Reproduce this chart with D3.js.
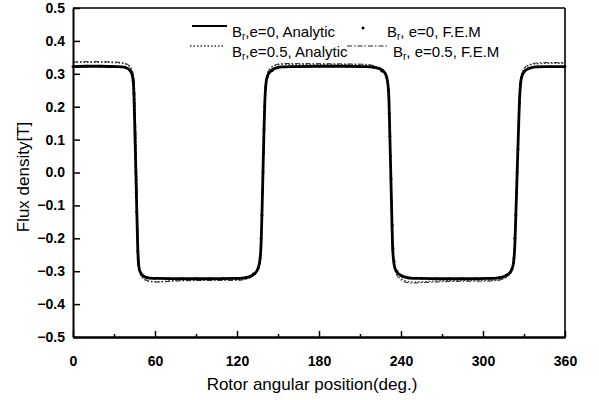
<!DOCTYPE html>
<html>
<head>
<meta charset="utf-8">
<script src="https://cdn.jsdelivr.net/npm/d3@7"></script>
<style>
  body { margin: 0; background: #fff; }
  text { font-family: Arial, "Liberation Sans", sans-serif; fill: #000; }
</style>
</head>
<body>
<script>
// tick values
const xTicks = [0, 60, 120, 180, 240, 300, 360]
const xMinor = [30, 90, 150, 210, 270, 330]
const yTicks = [-0.5, -0.4, -0.3, -0.2, -0.1, 0.0, 0.1, 0.2, 0.3, 0.4, 0.5]

// series, [angle (deg), Br (T)]
const analytic0 = [
  [0,0.322],[10,0.323],[20,0.323],[30,0.322],[36,0.321],[39,0.318],[41,0.313],[42.5,0.305],[43.5,0.293],[44.2,0.27],[44.7,0.22],[45.3,0.12],[46,0],[46.7,-0.12],[47.3,-0.22],[47.8,-0.27],[48.5,-0.293],[49.5,-0.305],[51,-0.313],[53,-0.318],[56,-0.321],[62,-0.322],[80,-0.323],[100,-0.323],[118,-0.322],
  [124,-0.321],[128,-0.318],[131,-0.313],[133.5,-0.305],[135.5,-0.29],[136.8,-0.265],[137.6,-0.22],[138.3,-0.12],[139,0],[139.7,0.12],[140.4,0.22],[141.2,0.27],[142.3,0.293],[144,0.305],[146,0.313],[149,0.318],[153,0.321],[160,0.322],[180,0.323],[200,0.323],[212,0.322],
  [218,0.321],[222,0.318],[225.5,0.313],[227.8,0.305],[229.5,0.29],[230.5,0.265],[231.2,0.22],[231.8,0.12],[232.5,0],[233.2,-0.12],[233.8,-0.22],[234.5,-0.265],[235.5,-0.29],[237.5,-0.305],[240,-0.313],[243,-0.318],[247,-0.321],[254,-0.322],[270,-0.323],[290,-0.323],[304,-0.322],
  [310,-0.321],[314,-0.318],[317,-0.313],[319.5,-0.305],[321.5,-0.29],[322.6,-0.265],[323.3,-0.22],[324.1,-0.12],[325,0],[325.9,0.12],[326.7,0.22],[327.5,0.27],[328.5,0.293],[330,0.305],[332,0.313],[335,0.318],[339,0.321],[346,0.322],[360,0.322]
]

const analytic05 = [
  [0,0.334],[10,0.335],[20,0.335],[30,0.334],[36,0.332],[39.5,0.328],[41.5,0.322],[43,0.312],[44,0.298],[44.8,0.27],[45.4,0.2],[46,0.1],[46.5,0],[47.1,-0.12],[47.7,-0.22],[48.3,-0.28],[49.2,-0.305],[50.5,-0.318],[52.5,-0.326],[56,-0.331],[62,-0.332],[75,-0.328],[95,-0.326],[118,-0.326],
  [124,-0.324],[128,-0.321],[131,-0.316],[133.5,-0.308],[135.5,-0.293],[136.8,-0.268],[137.6,-0.22],[138.3,-0.12],[139,0],[139.7,0.12],[140.4,0.22],[141.3,0.28],[142.5,0.305],[144.5,0.317],[147,0.324],[151,0.328],[158,0.329],[180,0.328],[200,0.328],[212,0.327],
  [218,0.325],[222,0.322],[225,0.317],[227.5,0.308],[229.4,0.293],[230.5,0.268],[231.3,0.22],[231.9,0.12],[232.6,0],[233.3,-0.12],[234,-0.22],[234.8,-0.275],[236,-0.3],[238,-0.315],[240.5,-0.324],[244,-0.33],[249,-0.333],[256,-0.332],[270,-0.329],[290,-0.328],[304,-0.328],
  [310,-0.327],[314,-0.324],[317,-0.319],[319.5,-0.31],[321.5,-0.295],[322.6,-0.27],[323.3,-0.22],[324.1,-0.12],[325,0],[325.9,0.12],[326.7,0.22],[327.6,0.28],[328.7,0.305],[330.5,0.318],[333,0.325],[336.5,0.329],[342,0.331],[350,0.332],[360,0.332]
]

const fem0 = [
  [0,0.322],[10,0.323],[20,0.323],[30,0.322],[38,0.32],[42,0.31],[44,0.28],[44.6,0.24],[45,0.18],[45.4,0.12],[45.7,0.06],[46,0],[46.3,-0.06],[46.6,-0.12],[47,-0.18],[47.4,-0.24],[48,-0.28],[50,-0.31],[54,-0.32],[60,-0.322],[70,-0.323],[80,-0.323],[90,-0.323],[100,-0.323],[110,-0.322],[120,-0.322],
  [127,-0.319],[132,-0.308],[135.6,-0.29],[137,-0.26],[137.6,-0.2],[138.2,-0.13],[138.7,-0.06],[139,0],[139.4,0.06],[139.8,0.13],[140.3,0.2],[140.9,0.26],[142.3,0.29],[146,0.31],[150,0.32],[160,0.322],[170,0.323],[180,0.323],[190,0.323],[200,0.323],[210,0.322],
  [220,0.319],[226,0.308],[229.5,0.29],[230.8,0.25],[231.4,0.18],[231.9,0.11],[232.3,0.05],[232.7,-0.02],[233.1,-0.09],[233.6,-0.16],[234.2,-0.23],[235,-0.27],[237,-0.3],[241,-0.315],[246,-0.321],[255,-0.322],[265,-0.323],[275,-0.323],[285,-0.323],[295,-0.323],[305,-0.322],
  [312,-0.32],[317,-0.313],[321,-0.295],[322.6,-0.26],[323.3,-0.2],[324,-0.13],[324.6,-0.06],[325,0],[325.6,0.07],[326.2,0.14],[326.8,0.21],[327.5,0.27],[329,0.3],[333,0.315],[340,0.321],[350,0.322],[360,0.322]
]

const fem05 = [
  [0,0.336],[15,0.337],[30,0.336],[37,0.333],[40.5,0.327],[42.8,0.315],[44.2,0.295],[45,0.26],[45.6,0.18],[46.2,0.06],[46.8,-0.06],[47.4,-0.18],[48.1,-0.26],[49.2,-0.3],[51,-0.318],[54,-0.328],[60,-0.333],[75,-0.33],[100,-0.328],[120,-0.328],
  [127,-0.324],[131.5,-0.315],[134.8,-0.298],[136.6,-0.27],[137.6,-0.2],[138.4,-0.09],[139.2,0.03],[140,0.15],[140.8,0.25],[142,0.295],[144,0.315],[147.5,0.326],[153,0.331],[165,0.331],[200,0.33],[213,0.329],
  [219,0.326],[223.5,0.318],[227,0.305],[229.5,0.285],[230.9,0.24],[231.7,0.15],[232.4,0.03],[233.1,-0.09],[233.8,-0.2],[234.7,-0.27],[236.2,-0.305],[238.5,-0.322],[242,-0.332],[248,-0.336],[258,-0.334],[280,-0.331],[304,-0.33],
  [311,-0.328],[315.5,-0.321],[319,-0.308],[321.4,-0.29],[322.6,-0.26],[323.5,-0.19],[324.4,-0.08],[325.3,0.04],[326.2,0.16],[327.1,0.26],[328.4,0.3],[330.5,0.319],[334,0.328],[340,0.333],[350,0.334],[360,0.334]
]

const W = 599
const H = 400
const plotL = 73
const plotR = 565
const plotT = 8
const plotB = 337

const svg = d3.select("body")
    .append("svg")
    .attr("width", W)
    .attr("height", H)

const x = d3.scaleLinear().domain([0, 360]).range([plotL, plotR])
const y = d3.scaleLinear().domain([-0.5, 0.5]).range([plotB, plotT])

const line = d3.line()
    .x(function(d) { return x(d[0]); })
    .y(function(d) { return y(d[1]); })
    .curve(d3.curveMonotoneX)

// curves
svg.append("path")
    .datum(fem05)
    .attr("d", line)
    .attr("fill", "none")
    .attr("stroke", "#222")
    .attr("stroke-width", 1)
    .attr("stroke-dasharray", "5,2,1.5,2")

svg.append("path")
    .datum(analytic05)
    .attr("d", line)
    .attr("fill", "none")
    .attr("stroke", "#333")
    .attr("stroke-width", 1.3)
    .attr("stroke-dasharray", "1.5,2")

svg.append("path")
    .datum(analytic0)
    .attr("d", line)
    .attr("fill", "none")
    .attr("stroke", "#000")
    .attr("stroke-width", 2.8)

svg.selectAll("circle.fem")
    .data(fem0)
    .enter()
    .append("circle")
    .attr("class", "fem")
    .attr("cx", function(d) { return x(d[0]); })
    .attr("cy", function(d) { return y(d[1]); })
    .attr("r", 1.4)
    .attr("fill", "#000")

// frame, top and right
svg.append("line")
    .attr("x1", plotL).attr("x2", plotR)
    .attr("y1", plotT).attr("y2", plotT)
    .attr("stroke", "#000").attr("stroke-width", 1.6)
svg.append("line")
    .attr("x1", plotR).attr("x2", plotR)
    .attr("y1", plotT).attr("y2", plotB)
    .attr("stroke", "#000").attr("stroke-width", 1.6)

// axes, ticks point inward
svg.append("g")
    .attr("transform", "translate(0," + plotB + ")")
    .call(d3.axisBottom(x).tickValues(xTicks).tickSize(-6).tickSizeOuter(0).tickPadding(19).tickFormat(d3.format("d")))
svg.append("g")
    .attr("transform", "translate(0," + plotB + ")")
    .call(d3.axisBottom(x).tickValues(xMinor).tickSize(-3).tickSizeOuter(0).tickFormat(""))
svg.append("g")
    .attr("transform", "translate(" + plotL + ",0)")
    .call(d3.axisLeft(y).tickValues(yTicks).tickSize(-7).tickSizeOuter(0).tickPadding(8).tickFormat(d3.format(".1f")))

svg.selectAll(".domain").attr("stroke-width", 2)
svg.selectAll(".tick line").attr("stroke-width", 1.5)
svg.selectAll(".tick text")
    .attr("font-size", 14)
    .attr("font-family", "Arial, 'Liberation Sans', sans-serif")
    .attr("font-weight", "bold")

// axis titles
svg.append("text")
    .attr("x", 312)
    .attr("y", 390)
    .attr("text-anchor", "middle")
    .attr("font-size", 17)
    .text("Rotor angular position(deg.)")

svg.append("text")
    .attr("transform", "translate(29,177) rotate(-90)")
    .attr("text-anchor", "middle")
    .attr("font-size", 17)
    .text("Flux density[T]")

// legend
function legendText(xp, yp, pre, rest) {
    const t = svg.append("text")
        .attr("x", xp)
        .attr("y", yp)
        .attr("font-size", 15)
    t.append("tspan").text(pre)
    t.append("tspan").attr("font-size", 10).attr("dy", 3).text("r")
    t.append("tspan").attr("dy", -3).text(rest)
}

svg.append("line")
    .attr("x1", 192).attr("x2", 227).attr("y1", 26).attr("y2", 26)
    .attr("stroke", "#000").attr("stroke-width", 2.2)
legendText(232, 37, "B", ",e=0, Analytic")

svg.append("line")
    .attr("x1", 190).attr("x2", 224).attr("y1", 46).attr("y2", 46)
    .attr("stroke", "#333").attr("stroke-width", 1.3).attr("stroke-dasharray", "1.5,2")
legendText(232, 57, "B", ",e=0.5, Analytic")

svg.append("circle")
    .attr("cx", 363).attr("cy", 28).attr("r", 1.5).attr("fill", "#000")
legendText(387, 37, "B", ", e=0, F.E.M")

svg.append("line")
    .attr("x1", 347).attr("x2", 389).attr("y1", 46).attr("y2", 46)
    .attr("stroke", "#222").attr("stroke-width", 1).attr("stroke-dasharray", "5,2,1.5,2")
legendText(393, 57, "B", ", e=0.5, F.E.M")
</script>
</body>
</html>
